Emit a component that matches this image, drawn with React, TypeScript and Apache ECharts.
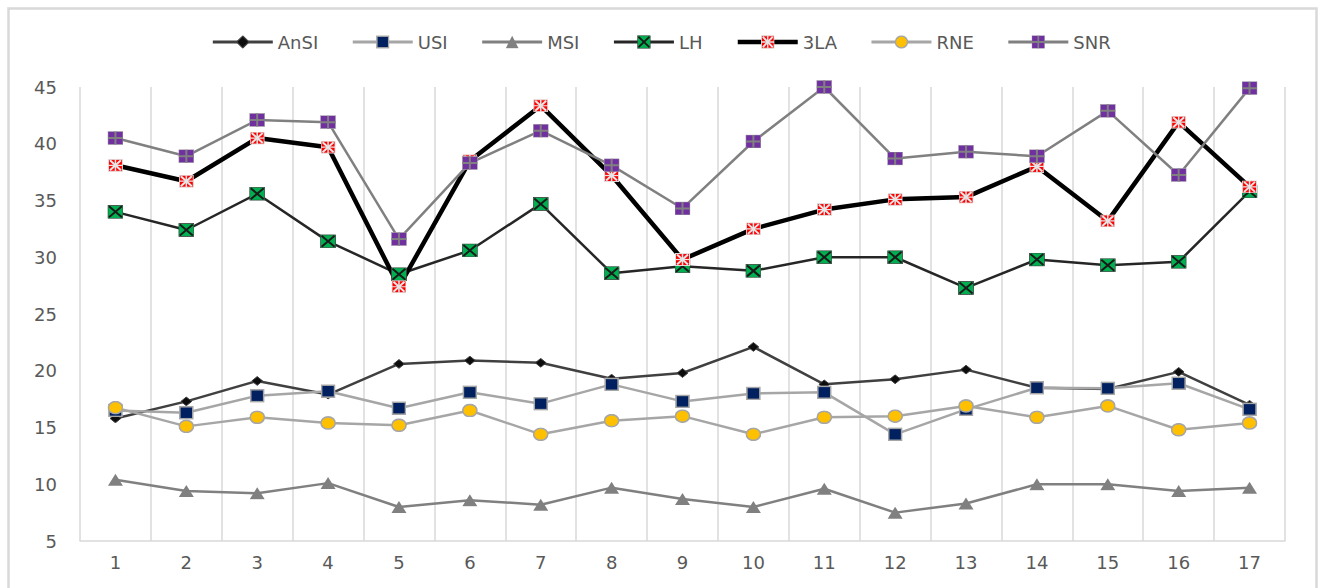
import React, { useEffect, useRef } from "react";
import * as echarts from "echarts";

const categories = ["1","2","3","4","5","6","7","8","9","10","11","12","13","14","15","16","17"];
const seriesNames = ["AnSI", "USI", "MSI", "LH", "3LA", "RNE", "SNR"];
const ansi = [15.8, 17.3, 19.1, 17.9, 20.6, 20.9, 20.7, 19.3, 19.8, 22.1, 18.8, 19.25, 20.1, 18.5, 18.4, 19.9, 17.0];
const usi = [16.5, 16.3, 17.8, 18.2, 16.7, 18.1, 17.1, 18.8, 17.3, 18.0, 18.1, 14.4, 16.6, 18.5, 18.45, 18.9, 16.6];
const msi = [10.4, 9.4, 9.2, 10.1, 8.0, 8.6, 8.2, 9.7, 8.7, 8.0, 9.6, 7.5, 8.3, 10.0, 10.0, 9.4, 9.7];
const lh = [34.0, 32.4, 35.6, 31.4, 28.5, 30.6, 34.7, 28.6, 29.2, 28.8, 30.0, 30.0, 27.3, 29.8, 29.3, 29.6, 35.8];
const la3 = [38.1, 36.7, 40.5, 39.7, 27.4, 38.5, 43.35, 37.2, 29.8, 32.5, 34.2, 35.1, 35.3, 38.0, 33.2, 41.9, 36.2];
const rne = [16.75, 15.1, 15.9, 15.4, 15.2, 16.5, 14.4, 15.6, 16.0, 14.4, 15.9, 16.0, 16.9, 15.9, 16.9, 14.8, 15.4];
const snr = [40.5, 38.9, 42.1, 41.9, 31.6, 38.3, 41.15, 38.1, 34.3, 40.2, 45.0, 38.7, 39.3, 38.9, 42.9, 37.25, 44.9];
const yTicks = { min: 5, max: 45, interval: 5 };

const svgUri = (w: number, h: number, body: string) =>
  "image://data:image/svg+xml;charset=utf-8," +
  encodeURIComponent(
    `<svg xmlns="http://www.w3.org/2000/svg" width="${w}" height="${h}" viewBox="0 0 ${w} ${h}" preserveAspectRatio="none">${body}</svg>`
  );

const markers: Record<string, { symbol: string; size: number[] }> = {
  AnSI: {
    symbol: svgUri(12, 10, `<polygon points="6,0.6 11.4,5 6,9.4 0.6,5" fill="#0d0d0d" stroke="#404040" stroke-width="1"/>`),
    size: [12, 10],
  },
  USI: {
    symbol: svgUri(15, 14, `<rect x="1" y="1" width="13" height="12" fill="#002060" stroke="#a6a6a6" stroke-width="1.6"/>`),
    size: [15, 14],
  },
  MSI: {
    symbol: svgUri(16, 13, `<polygon points="8,0.5 15.5,12.5 0.5,12.5" fill="#808080"/>`),
    size: [16, 13],
  },
  LH: {
    symbol: svgUri(16, 14, `<rect x="0.5" y="0.5" width="15" height="13" fill="#00b050" stroke="#404040" stroke-width="0.8"/><line x1="1.5" y1="1.5" x2="14.5" y2="12.5" stroke="#1a1a1a" stroke-width="2"/><line x1="14.5" y1="1.5" x2="1.5" y2="12.5" stroke="#1a1a1a" stroke-width="2"/>`),
    size: [16, 14],
  },
  "3LA": {
    symbol: svgUri(15, 13, `<rect x="0.5" y="0.5" width="14" height="12" fill="#ff0000" stroke="#e0e0e0" stroke-width="1"/><line x1="2" y1="1.5" x2="13" y2="11.5" stroke="#e6e6e6" stroke-width="2"/><line x1="13" y1="1.5" x2="2" y2="11.5" stroke="#e6e6e6" stroke-width="2"/><line x1="7.5" y1="0.5" x2="7.5" y2="12.5" stroke="#e6e6e6" stroke-width="1.5"/><line x1="0.5" y1="6.5" x2="14.5" y2="6.5" stroke="#e6e6e6" stroke-width="1.2"/>`),
    size: [15, 13],
  },
  RNE: {
    symbol: svgUri(16, 14, `<ellipse cx="8" cy="7" rx="7.1" ry="6.1" fill="#ffc000" stroke="#a6a6a6" stroke-width="1.6"/>`),
    size: [16, 14],
  },
  SNR: {
    symbol: svgUri(16, 14, `<rect x="0.5" y="0.5" width="15" height="13" fill="#7030a0" stroke="#a6a6a6" stroke-width="0.6"/><line x1="8" y1="0.5" x2="8" y2="13.5" stroke="#808080" stroke-width="2"/><line x1="0.5" y1="7" x2="15.5" y2="7" stroke="#808080" stroke-width="2"/>`),
    size: [16, 14],
  },
};

const lineStyles: Record<string, { color: string; width: number; legendWidth: number }> = {
  AnSI: { color: "#404040", width: 2.5, legendWidth: 3 },
  USI: { color: "#a6a6a6", width: 2.5, legendWidth: 3 },
  MSI: { color: "#808080", width: 2.5, legendWidth: 3 },
  LH: { color: "#262626", width: 2.5, legendWidth: 3 },
  "3LA": { color: "#000000", width: 4.5, legendWidth: 4.5 },
  RNE: { color: "#a6a6a6", width: 2.5, legendWidth: 3 },
  SNR: { color: "#808080", width: 2.5, legendWidth: 3 },
};

const dataByName: Record<string, number[]> = {
  AnSI: ansi,
  USI: usi,
  MSI: msi,
  LH: lh,
  "3LA": la3,
  RNE: rne,
  SNR: snr,
};

export default function App() {
  const ref = useRef<HTMLDivElement>(null);
  useEffect(() => {
    if (!ref.current) return;
    const chart = echarts.init(ref.current, undefined, { renderer: "svg" });
    const font = "DejaVu Sans";
    chart.setOption({
      animation: false,
      backgroundColor: "#ffffff",
      textStyle: { fontFamily: font },
      graphic: [
        {
          type: "rect",
          shape: { x: 8.5, y: 8.5, width: 1308, height: 620 },
          style: { fill: "none", stroke: "#d9d9d9", lineWidth: 2.5 },
          silent: true,
          z: -10,
        },
      ],
      legend: {
        top: 28,
        left: "center",
        itemWidth: 60,
        itemHeight: 17,
        itemGap: 33,
        textStyle: { color: "#595959", fontSize: 18, fontFamily: font },
        data: seriesNames.map((name) => ({
          name,
          lineStyle: { width: lineStyles[name].legendWidth, color: lineStyles[name].color },
        })),
      },
      grid: { left: 80, right: 37, top: 87, bottom: 47, containLabel: false },
      xAxis: {
        type: "category",
        data: categories,
        boundaryGap: true,
        axisLine: { show: true, lineStyle: { color: "#d9d9d9", width: 1.5 } },
        axisTick: { show: false },
        splitLine: { show: true, lineStyle: { color: "#d9d9d9", width: 1.5 } },
        axisLabel: { color: "#595959", fontSize: 18, margin: 12, fontFamily: font },
      },
      yAxis: {
        type: "value",
        min: yTicks.min,
        max: yTicks.max,
        interval: yTicks.interval,
        axisLine: { show: false },
        axisTick: { show: false },
        splitLine: { show: false },
        axisLabel: { color: "#595959", fontSize: 18, margin: 23, fontFamily: font },
      },
      series: seriesNames.map((name) => ({
        name,
        type: "line",
        data: dataByName[name],
        symbol: markers[name].symbol,
        symbolSize: markers[name].size,
        showAllSymbol: true,
        clip: false,
        lineStyle: { color: lineStyles[name].color, width: lineStyles[name].width },
        itemStyle: { color: lineStyles[name].color },
      })),
    });
    return () => chart.dispose();
  }, []);
  return (
    <div
      ref={ref}
      style={{ position: "absolute", left: 0, top: 0, width: 1322, height: 588 }}
    />
  );
}
